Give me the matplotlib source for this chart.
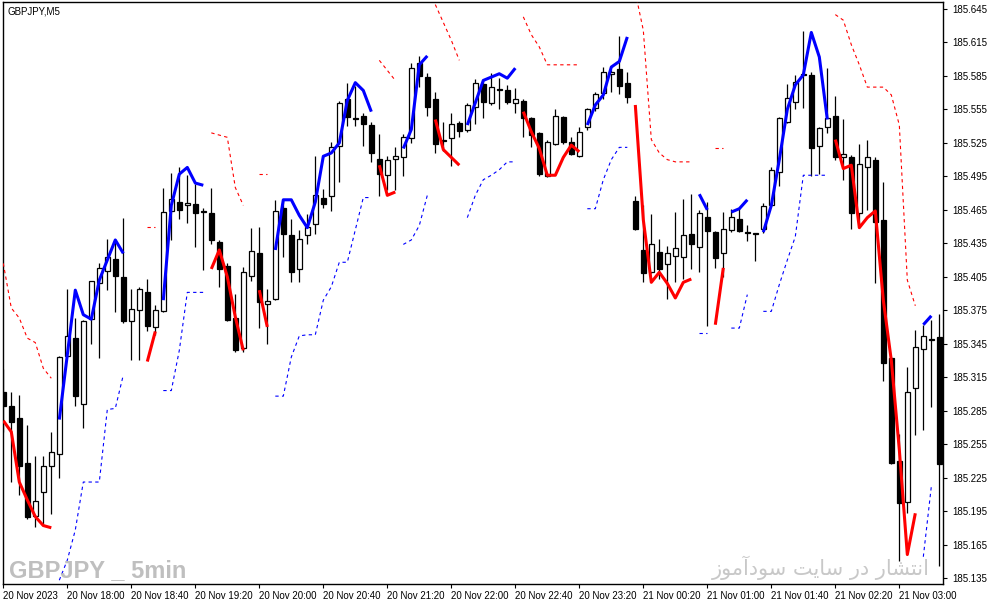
import numpy as np
import matplotlib
matplotlib.use('Agg')
import matplotlib.pyplot as plt
from matplotlib.patches import Rectangle

# GBPJPY M5 candles, 20 Nov 17:20 -> 21 Nov 03:05 (118 bars)
opens = [185.302, 185.289, 185.278, 185.238, 185.191, 185.212, 185.235, 185.246, 185.334, 185.350,
         185.291, 185.367, 185.399, 185.410, 185.421, 185.405, 185.365, 185.375, 185.391, 185.360,
         185.374, 185.464, 185.472, 185.469, 185.470, 185.464, 185.462, 185.436, 185.415, 185.368,
         185.341, 185.406, 185.426, 185.381, 185.385, 185.467, 185.442, 185.412, 185.442, 185.452,
         185.476, 185.477, 185.522, 185.564, 185.547, 185.549, 185.541, 185.511, 185.496, 185.511,
         185.512, 185.529, 185.597, 185.584, 185.564, 185.528, 185.529, 185.543, 185.537, 185.557,
         185.578, 185.561, 185.573, 185.572, 185.561, 185.563, 185.547, 185.534, 185.495, 185.524,
         185.548, 185.526, 185.513, 185.539, 185.556, 185.570, 185.587, 185.591, 185.579, 185.473,
         185.429, 185.409, 185.427, 185.416, 185.424, 185.423, 185.443, 185.432, 185.459, 185.445,
         185.426, 185.447, 185.457, 185.445, 185.444, 185.448, 185.469, 185.499, 185.544, 185.562,
         185.587, 185.586, 185.522, 185.539, 185.549, 185.512, 185.512, 185.462, 185.503, 185.510,
         185.456, 185.332, 185.240, 185.203, 185.305, 185.340, 185.349, 185.351]
highs = [185.322, 185.302, 185.299, 185.272, 185.244, 185.244, 185.266, 185.334, 185.394, 185.368,
         185.366, 185.401, 185.417, 185.439, 185.439, 185.458, 185.394, 185.396, 185.403, 185.380,
         185.485, 185.498, 185.503, 185.496, 185.488, 185.467, 185.485, 185.438, 185.417, 185.390,
         185.414, 185.449, 185.450, 185.394, 185.474, 185.475, 185.457, 185.447, 185.461, 185.513,
         185.484, 185.526, 185.563, 185.579, 185.576, 185.552, 185.544, 185.533, 185.513, 185.521,
         185.533, 185.597, 185.603, 185.588, 185.571, 185.544, 185.552, 185.545, 185.561, 185.582,
         185.582, 185.588, 185.583, 185.577, 185.574, 185.564, 185.548, 185.535, 185.528, 185.555,
         185.549, 185.530, 185.539, 185.556, 185.571, 185.593, 185.590, 185.621, 185.589, 185.477,
         185.469, 185.461, 185.439, 185.433, 185.463, 185.475, 185.479, 185.465, 185.472, 185.446,
         185.463, 185.466, 185.467, 185.451, 185.444, 185.471, 185.503, 185.548, 185.578, 185.586,
         185.625, 185.589, 185.539, 185.592, 185.567, 185.546, 185.514, 185.524, 185.528, 185.512,
         185.490, 185.333, 185.264, 185.324, 185.357, 185.362, 185.366, 185.372]
lows = [185.266, 185.221, 185.209, 185.188, 185.181, 185.182, 185.192, 185.225, 185.333, 185.289,
        185.269, 185.345, 185.332, 185.393, 185.373, 185.364, 185.330, 185.330, 185.356, 185.353,
        185.373, 185.438, 185.457, 185.453, 185.432, 185.411, 185.434, 185.396, 185.365, 185.338,
        185.338, 185.401, 185.359, 185.345, 185.384, 185.423, 185.400, 185.400, 185.434, 185.443,
        185.467, 185.464, 185.490, 185.540, 185.540, 185.522, 185.508, 185.477, 185.483, 185.483,
        185.495, 185.525, 185.575, 185.549, 185.516, 185.518, 185.504, 185.530, 185.535, 185.542,
        185.547, 185.559, 185.555, 185.560, 185.552, 185.530, 185.521, 185.495, 185.494, 185.523,
        185.524, 185.514, 185.512, 185.537, 185.554, 185.564, 185.571, 185.569, 185.561, 185.447,
        185.400, 185.408, 185.403, 185.385, 185.400, 185.403, 185.412, 185.409, 185.361, 185.413,
        185.405, 185.445, 185.445, 185.437, 185.419, 185.444, 185.468, 185.486, 185.543, 185.555,
        185.556, 185.495, 185.497, 185.534, 185.510, 185.492, 185.448, 185.449, 185.465, 185.399,
        185.312, 185.237, 185.150, 185.193, 185.263, 185.268, 185.288, 185.146]
closes = [185.289, 185.275, 185.235, 185.190, 185.204, 185.235, 185.248, 185.333, 185.352, 185.298,
          185.365, 185.401, 185.413, 185.423, 185.406, 185.365, 185.376, 185.394, 185.361, 185.375,
          185.463, 185.475, 185.465, 185.471, 185.462, 185.463, 185.438, 185.412, 185.366, 185.339,
          185.409, 185.428, 185.382, 185.383, 185.464, 185.443, 185.409, 185.439, 185.450, 185.478,
          185.470, 185.521, 185.561, 185.548, 185.546, 185.542, 185.516, 185.497, 185.510, 185.513,
          185.530, 185.592, 185.585, 185.557, 185.524, 185.527, 185.542, 185.536, 185.559, 185.579,
          185.562, 185.575, 185.572, 185.562, 185.564, 185.547, 185.532, 185.497, 185.526, 185.549,
          185.526, 185.515, 185.535, 185.555, 185.569, 185.589, 185.589, 185.576, 185.566, 185.448,
          185.408, 185.434, 185.412, 185.426, 185.431, 185.442, 185.434, 185.462, 185.446, 185.422,
          185.448, 185.459, 185.446, 185.444, 185.443, 185.468, 185.501, 185.547, 185.565, 185.580,
          185.586, 185.520, 185.538, 185.547, 185.512, 185.515, 185.462, 185.506, 185.512, 185.454,
          185.328, 185.238, 185.202, 185.302, 185.342, 185.352, 185.348, 185.237]

# trend line pieces: (first bar, values)
trend_down = [
    (0, [185.276, 185.266, 185.221, 185.205, 185.190, 185.182, 185.180]),
    (18, [185.329, 185.356]),
    (26, [185.412, 185.429, 185.405, 185.369, 185.339]),
    (32, [185.393, 185.360]),
    (47, [185.505, 185.478, 185.481]),
    (54, [185.546, 185.519, 185.512, 185.505]),
    (65, [185.553, 185.535, 185.520, 185.496, 185.496, 185.512, 185.523, 185.517]),
    (79, [185.559, 185.456, 185.400, 185.409, 185.399, 185.386, 185.400, 185.403]),
    (89, [185.362, 185.413]),
    (104, [185.528, 185.502, 185.505, 185.449, 185.458, 185.464, 185.384, 185.330, 185.250, 185.156, 185.193]),
]
trend_up = [
    (7, [185.277, 185.335, 185.393, 185.371, 185.367, 185.402, 185.420, 185.438, 185.426]),
    (20, [185.384, 185.469, 185.497, 185.503, 185.489, 185.487]),
    (34, [185.429, 185.474, 185.474, 185.460, 185.449, 185.472, 185.513, 185.516, 185.525, 185.563,
          185.579, 185.572, 185.553]),
    (50, [185.520, 185.537, 185.595, 185.603]),
    (58, [185.541, 185.561, 185.581, 185.584, 185.587, 185.583, 185.592]),
    (73, [185.541, 185.559, 185.568, 185.593, 185.598, 185.620]),
    (87, [185.479, 185.465]),
    (91, [185.463, 185.466, 185.474]),
    (95, [185.445, 185.469, 185.510, 185.555, 185.577, 185.586, 185.624, 185.602, 185.546]),
    (115, [185.362, 185.370]),
]
# dotted channel
band_upper = [
    (0, [185.417, 185.377, 185.368, 185.350, 185.346, 185.323, 185.314]),
    (18, [185.450, 185.450]),
    (26, [185.534, 185.532, 185.530, 185.485, 185.469]),
    (32, [185.497, 185.497]),
    (47, [185.599, 185.590, 185.581]),
    (54, [185.649, 185.633, 185.617, 185.599]),
    (65, [185.638, 185.622, 185.611, 185.595, 185.595, 185.595, 185.595, 185.595]),
    (79, [185.660, 185.626, 185.528, 185.516, 185.510, 185.508, 185.508, 185.508]),
    (89, [185.520, 185.520]),
    (104, [185.640, 185.635, 185.613, 185.595, 185.575, 185.575, 185.575, 185.568, 185.541, 185.402, 185.379]),
]
band_lower = [
    (7, [185.133, 185.151, 185.178, 185.221, 185.221, 185.221, 185.286, 185.287, 185.317]),
    (20, [185.303, 185.303, 185.339, 185.391, 185.391, 185.391]),
    (34, [185.298, 185.298, 185.333, 185.352, 185.353, 185.353, 185.384, 185.396, 185.418, 185.418,
          185.447, 185.476, 185.476]),
    (50, [185.434, 185.438, 185.451, 185.478]),
    (58, [185.458, 185.478, 185.492, 185.496, 185.501, 185.508, 185.508]),
    (73, [185.466, 185.466, 185.492, 185.510, 185.521, 185.521]),
    (87, [185.355, 185.355]),
    (91, [185.359, 185.359, 185.389]),
    (95, [185.374, 185.374, 185.398, 185.420, 185.441, 185.496, 185.496, 185.496, 185.496]),
    (115, [185.154, 185.217]),
]

time_ticks = [0, 8, 16, 24, 32, 40, 48, 56, 64, 72, 80, 88, 96, 104, 112]
time_labels = ['20 Nov 2023', '20 Nov 18:00', '20 Nov 18:40', '20 Nov 19:20', '20 Nov 20:00',
               '20 Nov 20:40', '20 Nov 21:20', '20 Nov 22:00', '20 Nov 22:40', '20 Nov 23:20',
               '21 Nov 00:20', '21 Nov 01:00', '21 Nov 01:40', '21 Nov 02:20', '21 Nov 03:00']
price_ticks = [185.135, 185.165, 185.195, 185.225, 185.255, 185.285, 185.315, 185.345, 185.375,
               185.405, 185.435, 185.465, 185.495, 185.525, 185.555, 185.585, 185.615, 185.645]

plt.rcParams['font.family'] = ['Liberation Sans', 'DejaVu Sans']

W, H = 991, 605
fig = plt.figure(figsize=(W / 100, H / 100), dpi=100)
ax = fig.add_axes([2.5 / W, 21 / H, 940.5 / W, 582 / H])

# candles
n = len(opens)
ax.vlines(range(n), lows, highs, color='black', lw=0.9, zorder=2)
for i in range(n):
    o, c = opens[i], closes[i]
    if abs(c - o) < 0.0008:
        ax.hlines((o + c) / 2, i - 0.32, i + 0.32, color='black', lw=1.2, zorder=3)
        continue
    face = 'white' if c > o else 'black'
    ax.add_patch(Rectangle((i - 0.3, min(o, c)), 0.6, abs(c - o), facecolor=face,
                           edgecolor='black', lw=0.9, zorder=3))

def draw_pieces(pieces, **kw):
    for start, vals in pieces:
        ax.plot(np.arange(start, start + len(vals)), vals, **kw)

draw_pieces(band_upper, color='#ff0000', lw=0.8, ls=(0, (3, 3)), zorder=4)
draw_pieces(band_lower, color='#0000ff', lw=0.8, ls=(0, (3, 3)), zorder=4)
draw_pieces(trend_down, color='#ff0000', lw=2.2, zorder=5, solid_capstyle='butt')
draw_pieces(trend_up, color='#0000ff', lw=2.2, zorder=5, solid_capstyle='butt')

ax.set_xlim(-0.1, 117.46)
ax.set_ylim(185.1296, 185.6513)

ax.yaxis.tick_right()
ax.set_yticks(price_ticks)
ax.set_yticklabels(['%.3f' % p for p in price_ticks])
ax.set_xticks(time_ticks)
ax.set_xticklabels(time_labels, ha='left')
ax.tick_params(axis='y', direction='out', length=3, width=0.8, pad=3.5, labelsize=7)
ax.tick_params(axis='x', direction='out', length=3, width=0.8, pad=2, labelsize=7)
for s in ax.spines.values():
    s.set_color('black')
    s.set_linewidth(1.0)

fig.text(7 / W, 1 - 12 / H, 'GBPJPY,M5', fontsize=7, va='center', ha='left')

# watermarks
fig.text(9 / W, 1 - 577 / H, 'GBPJPY _ 5min', fontsize=17, weight='bold', color='#bfbfbf',
         ha='left', va='baseline', zorder=1)
# "انتشار در سایت سودآموز" written in shaped, visual order
persian = ('\uFEAF\uFEEE\uFEE3\uFE81\uFEA9\uFEEE\uFEB3 \uFE96\uFBFE\uFE8E\uFEB3 '
           '\uFEAD\uFEA9 \uFEAD\uFE8E\uFEB8\uFE98\uFEE7\uFE8D')
fig.text(930 / W, 1 - 575 / H, persian, fontsize=15, color='#c8c8c8',
         family=['DejaVu Sans'], ha='right', va='baseline', zorder=1)

fig.savefig('out.png', dpi=100)
